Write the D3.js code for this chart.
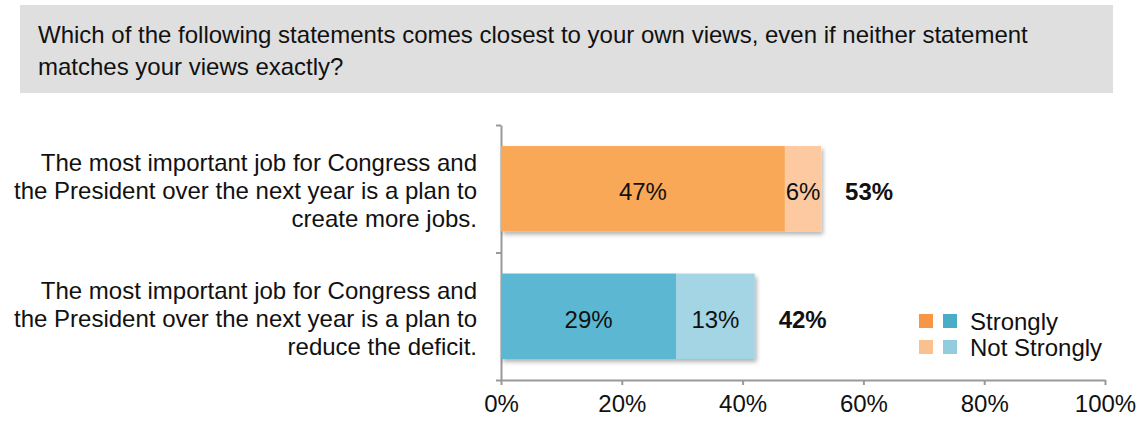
<!DOCTYPE html>
<html>
<head>
<meta charset="utf-8">
<script src="https://cdn.jsdelivr.net/npm/d3@7"></script>
<style>
  html, body { margin: 0; padding: 0; background: #fff; }
  svg { display: block; font-family: Arial, "Liberation Sans", sans-serif; }
</style>
</head>
<body>
<svg id="chart" width="1138" height="422"></svg>
<script>
// Survey question and answers
const question = [
  "Which of the following statements comes closest to your own views, even if neither statement",
  "matches your views exactly?"
];
const categories = [
  ["The most important job for Congress and", "the President over the next year is a plan to", "create more jobs."],
  ["The most important job for Congress and", "the President over the next year is a plan to", "reduce the deficit."]
];
const strongly = [47, 29];
const notStrongly = [6, 13];
const xTicks = [0, 20, 40, 60, 80, 100];
const legendLabels = ["Strongly", "Not Strongly"];

// Colour sets per answer (strong, not strong)
const barColors = [["#f8a857", "#fcc9a0"], ["#5bb8d2", "#a3d5e4"]];
const legendColors = [["#f79646", "#4bacc6"], ["#fac090", "#93cddd"]];

const FS = 24;
const svg = d3.select("#chart");

// Drop shadow for bars
const defs = svg.append("defs");
const f = defs.append("filter").attr("id", "shadow")
  .attr("x", "-5%").attr("y", "-10%").attr("width", "115%").attr("height", "130%");
f.append("feDropShadow").attr("dx", 2).attr("dy", 3).attr("stdDeviation", 2)
  .attr("flood-color", "#000").attr("flood-opacity", 0.3);

// Question header
svg.append("rect").attr("x", 20).attr("y", 5).attr("width", 1093).attr("height", 88)
  .attr("fill", "#dfdfdf");
svg.append("g").selectAll("text").data(question).join("text")
  .attr("x", 38).attr("y", (d, i) => 43 + i * 32)
  .attr("font-size", FS).attr("fill", "#111").text(d => d);

// Scales
const x = d3.scaleLinear().domain([0, 100]).range([501, 1105]);
const y = d3.scaleBand().domain(d3.range(categories.length)).range([125, 380])
  .paddingInner(0.33).paddingOuter(0.165);

// Axes
const xAxis = svg.append("g").attr("transform", "translate(0,380)")
  .call(d3.axisBottom(x).tickValues(xTicks).tickFormat(d => d + "%").tickSize(5).tickSizeOuter(0).tickPadding(10));
xAxis.select(".domain").attr("stroke", "#999").attr("stroke-width", 2);
xAxis.selectAll(".tick line").attr("stroke", "#999").attr("stroke-width", 2);
xAxis.selectAll(".tick text").attr("font-size", FS).attr("fill", "#111")
  .attr("font-family", "Arial, 'Liberation Sans', sans-serif");

const yEdges = d3.scaleLinear().domain([0, categories.length]).range([125, 380]);
const yAxis = svg.append("g").attr("transform", "translate(501,0)")
  .call(d3.axisLeft(yEdges).tickValues(d3.range(categories.length + 1)).tickFormat("").tickSize(5).tickSizeOuter(0));
yAxis.select(".domain").attr("stroke", "#999").attr("stroke-width", 2);
yAxis.selectAll(".tick line").attr("stroke", "#999").attr("stroke-width", 2);

// Stacked bars
const rows = categories.map((c, i) => ({
  i,
  segs: [
    { v: strongly[i], x0: 0, x1: strongly[i], color: barColors[i][0] },
    { v: notStrongly[i], x0: strongly[i], x1: strongly[i] + notStrongly[i], color: barColors[i][1] }
  ],
  total: strongly[i] + notStrongly[i]
}));

const rowG = svg.append("g").selectAll("g").data(rows).join("g");
rowG.append("g").attr("filter", "url(#shadow)").selectAll("rect").data(d => d.segs.map(s => ({ ...s, i: d.i })))
  .join("rect")
  .attr("x", d => x(d.x0)).attr("width", d => x(d.x1) - x(d.x0))
  .attr("y", d => y(d.i)).attr("height", y.bandwidth())
  .attr("fill", d => d.color);

const mid = i => y(i) + y.bandwidth() / 2;

rowG.selectAll("text.val").data(d => d.segs.map(s => ({ ...s, i: d.i })))
  .join("text").attr("class", "val")
  .attr("x", d => (x(d.x0) + x(d.x1)) / 2)
  .attr("y", d => mid(d.i) + 3)
  .attr("dy", "0.35em").attr("text-anchor", "middle")
  .attr("font-size", FS).attr("fill", "#111").text(d => d.v + "%");

rowG.append("text")
  .attr("x", d => x(d.total) + 24)
  .attr("y", d => mid(d.i) + 3)
  .attr("dy", "0.35em").attr("font-size", FS).attr("font-weight", "bold")
  .attr("fill", "#111").text(d => d.total + "%");

// Category labels
rowG.append("text")
  .attr("text-anchor", "end").attr("font-size", FS).attr("fill", "#111")
  .each(function (d) {
    const lines = categories[d.i];
    const cy = mid(d.i) + 2;
    d3.select(this).selectAll("tspan").data(lines).join("tspan")
      .attr("x", 477)
      .attr("y", (l, k) => cy + (k - (lines.length - 1) / 2) * 28)
      .attr("dy", "0.35em")
      .text(l => l);
  });

// Legend
const legend = svg.append("g");
legendLabels.forEach((lab, r) => {
  legendColors[r].forEach((c, k) => {
    legend.append("rect").attr("x", 919 + k * 24).attr("y", 314 + r * 26)
      .attr("width", 14).attr("height", 14).attr("fill", c);
  });
  legend.append("text").attr("x", 970).attr("y", 322 + r * 26).attr("dy", "0.35em")
    .attr("font-size", FS).attr("fill", "#111").text(lab);
});
</script>
</body>
</html>
